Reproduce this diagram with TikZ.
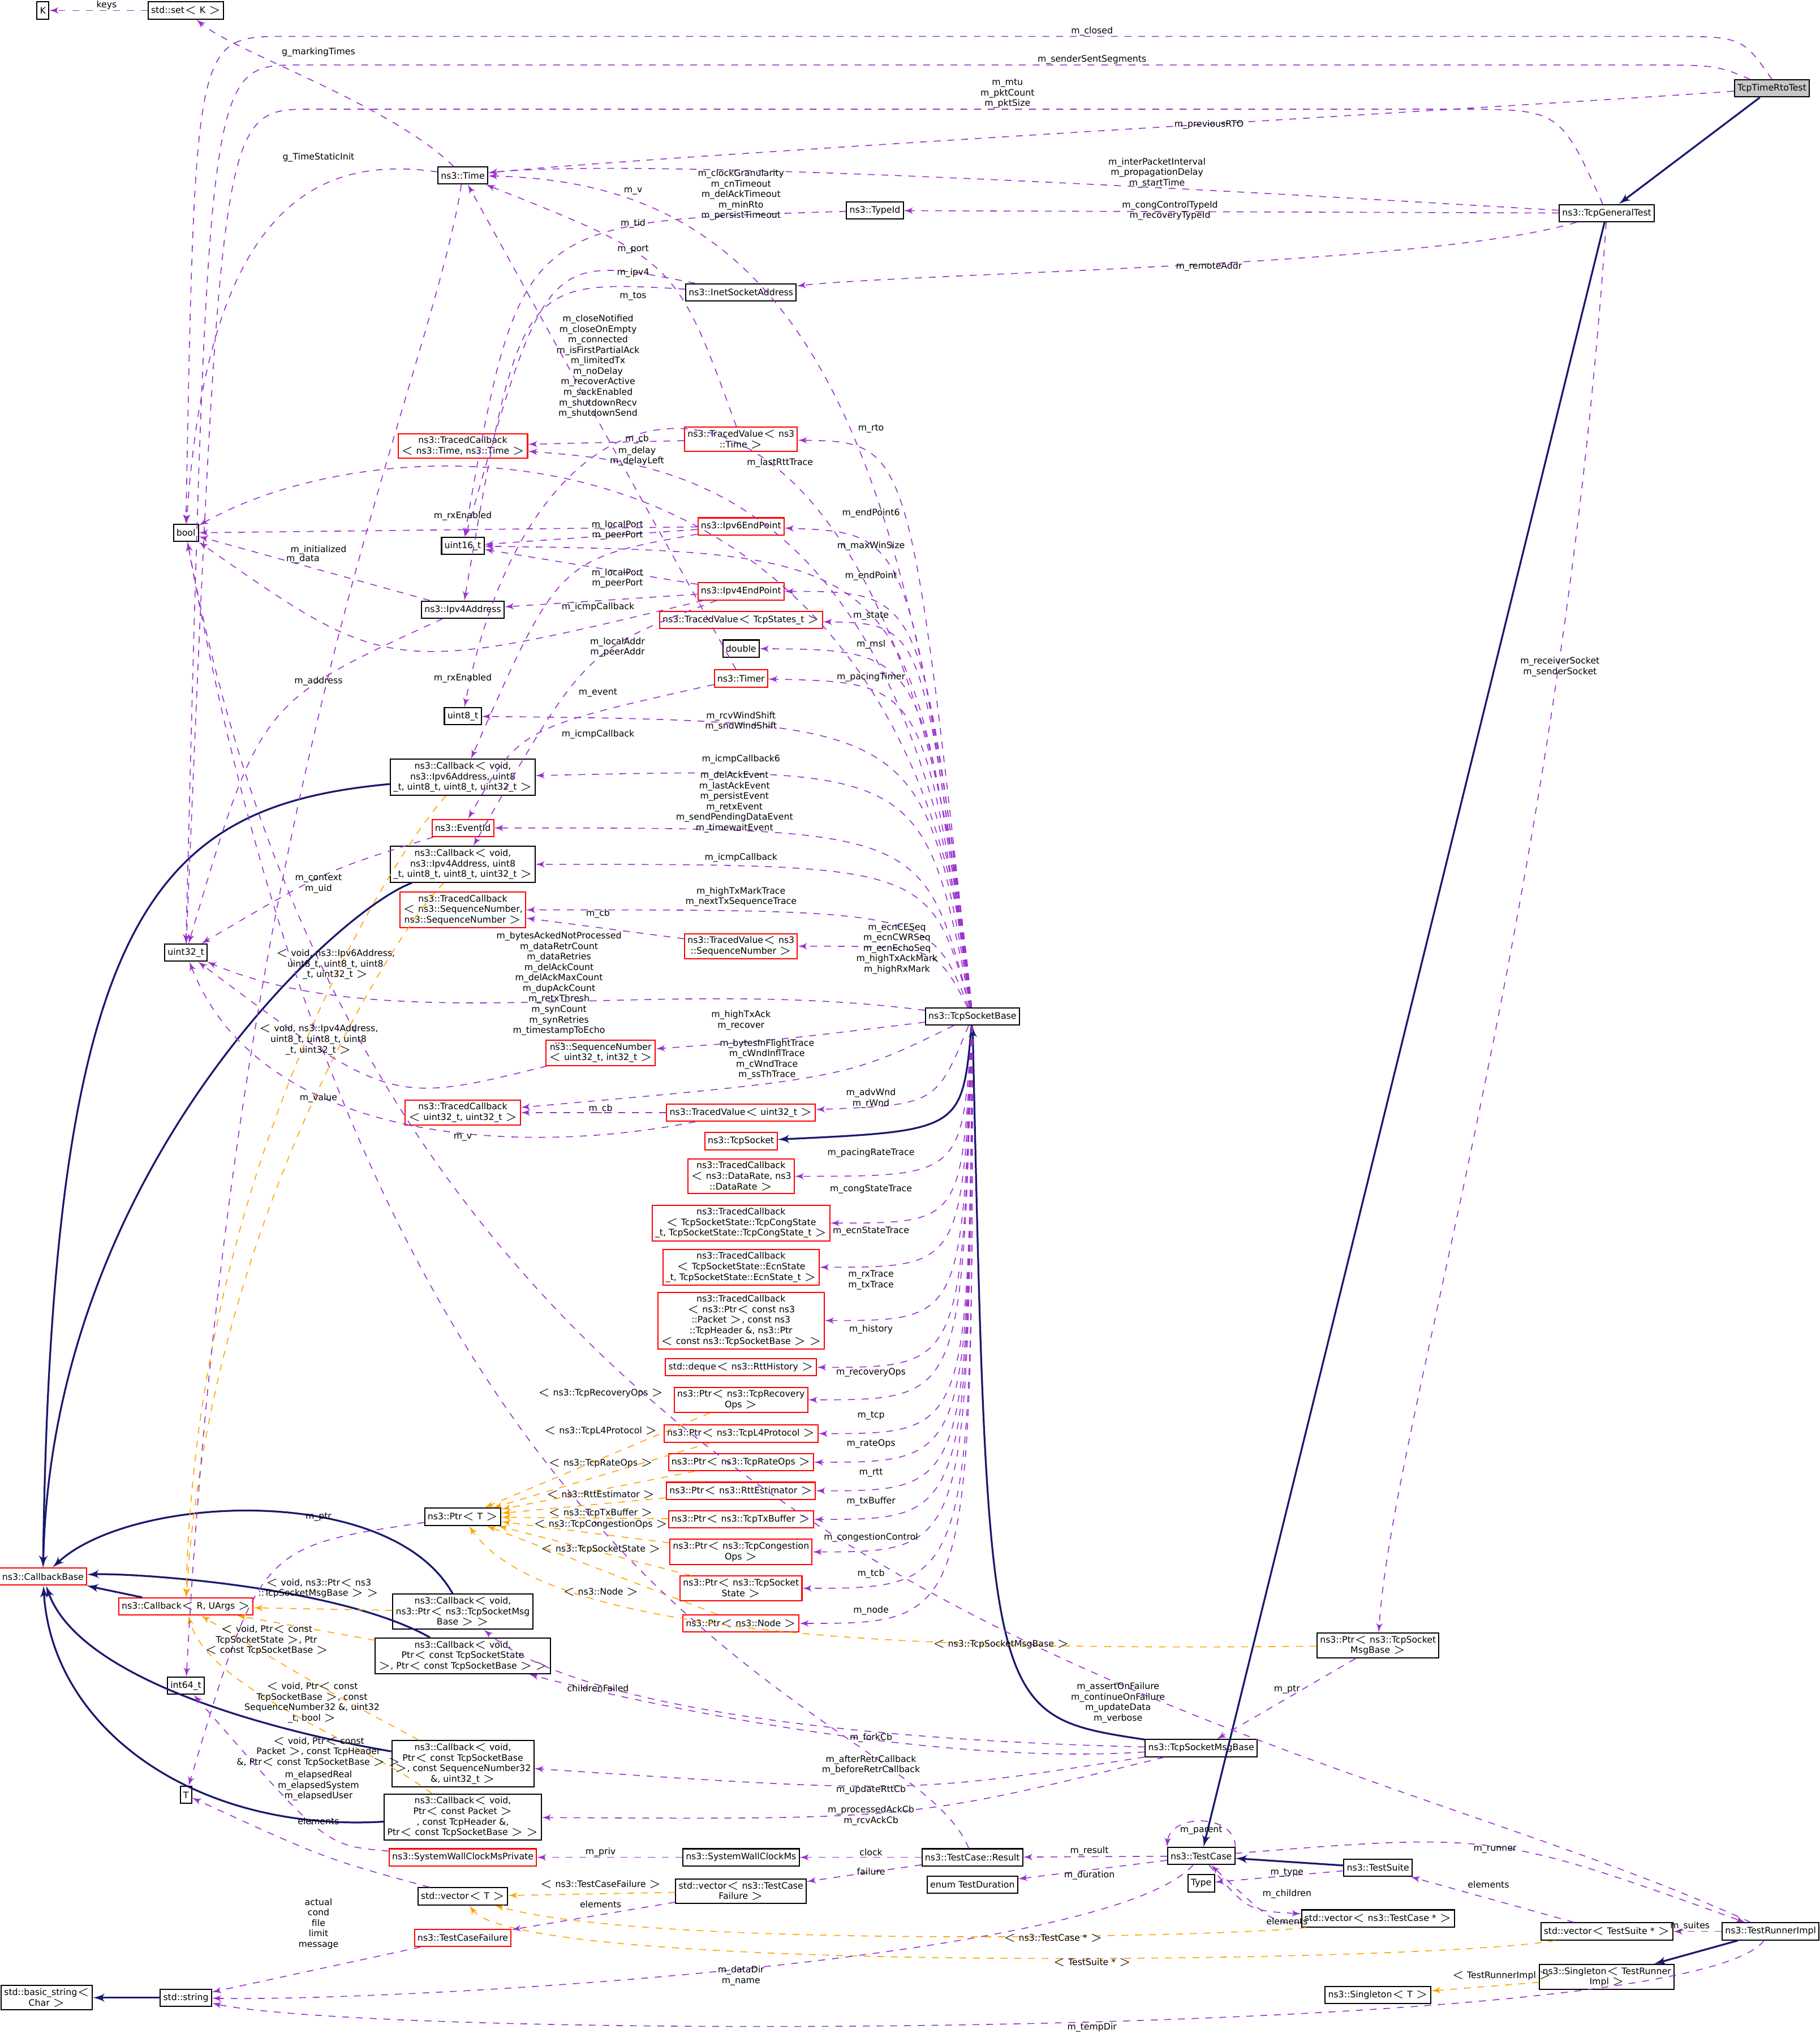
\documentclass[tikz,border=0pt]{standalone}
\usepackage{fontspec}
\setmainfont{DejaVu Sans}
\usepackage{tikz}
\usetikzlibrary{shapes, arrows}
\usepackage{xcolor}
\definecolor{usecol}{HTML}{9A32CD}
\definecolor{inhcol}{HTML}{191970}
\definecolor{tplcol}{HTML}{FFA500}
\begin{document}
\begin{tikzpicture}[x=0.02cm, y=-0.02cm, font=\fontsize{3.9}{4.6}\selectfont]
		\tikzstyle{cls} = [rectangle, draw, fill=white, align=center, inner sep=1.3pt, minimum height=7.5pt, line width=0.5pt]
		\tikzstyle{rcls} = [cls, draw=red]
		\tikzstyle{use} = [draw=usecol, dashed, -latex']
		\tikzstyle{inh} = [draw=inhcol, thick, -latex']
		\tikzstyle{tpl} = [draw=tplcol, dashed, -latex']
		\tikzstyle{lbl} = [align=center, inner sep=0pt]
		\useasboundingbox (0,0) rectangle (1400,1568);
		% classes
		\node [cls] at (33,8) (k) {K};
		\node [cls] at (143,8) (setk) {std::set$<$ K $>$};
		\node [cls, fill=gray!45] at (1363,68) (rto) {TcpTimeRtoTest};
		\node [cls] at (1236,164) (gen) {ns3::TcpGeneralTest};
		\node [cls] at (356,135) (time) {ns3::Time};
		\node [cls] at (673,162) (typeid) {ns3::TypeId};
		\node [cls] at (570,225) (inet) {ns3::InetSocketAddress};
		\node [cls] at (143,410) (bool) {bool};
		\node [rcls] at (356,343) (tcbtime) {ns3::TracedCallback\\$<$ ns3::Time, ns3::Time $>$};
		\node [rcls] at (570,338) (tvtime) {ns3::TracedValue$<$ ns3\\::Time $>$};
		\node [rcls] at (570,405) (ep6) {ns3::Ipv6EndPoint};
		\node [cls] at (356,420) (u16) {uint16\_t};
		\node [rcls] at (570,455) (ep4) {ns3::Ipv4EndPoint};
		\node [cls] at (356,469) (ipv4) {ns3::Ipv4Address};
		\node [rcls] at (570,477) (tvstate) {ns3::TracedValue$<$ TcpStates\_t $>$};
		\node [cls] at (570,499) (dbl) {double};
		\node [rcls] at (570,522) (timer) {ns3::Timer};
		\node [cls] at (356,551) (u8) {uint8\_t};
		\node [cls] at (356,598) (cb6) {ns3::Callback$<$ void,\\ns3::Ipv6Address, uint8\\\_t, uint8\_t, uint8\_t, uint32\_t $>$};
		\node [rcls] at (356,637) (evid) {ns3::EventId};
		\node [cls] at (356,665) (cb4) {ns3::Callback$<$ void,\\ns3::Ipv4Address, uint8\\\_t, uint8\_t, uint8\_t, uint32\_t $>$};
		\node [rcls] at (356,700) (tcbseq) {ns3::TracedCallback\\$<$ ns3::SequenceNumber,\\ns3::SequenceNumber $>$};
		\node [rcls] at (570,728) (tvseq) {ns3::TracedValue$<$ ns3\\::SequenceNumber $>$};
		\node [cls] at (143,733) (u32) {uint32\_t};
		\node [cls] at (748,782) (sock) {ns3::TcpSocketBase};
		\node [rcls] at (462,810) (seqnum) {ns3::SequenceNumber\\$<$ uint32\_t, int32\_t $>$};
		\node [rcls] at (356,856) (tcbu32) {ns3::TracedCallback\\$<$ uint32\_t, uint32\_t $>$};
		\node [rcls] at (570,856) (tvu32) {ns3::TracedValue$<$ uint32\_t $>$};
		\node [rcls] at (570,878) (tcpsock) {ns3::TcpSocket};
		\node [rcls] at (570,905) (tcbrate) {ns3::TracedCallback\\$<$ ns3::DataRate, ns3\\::DataRate $>$};
		\node [rcls] at (570,941) (tcbcong) {ns3::TracedCallback\\$<$ TcpSocketState::TcpCongState\\\_t, TcpSocketState::TcpCongState\_t $>$};
		\node [rcls] at (570,975) (tcbecn) {ns3::TracedCallback\\$<$ TcpSocketState::EcnState\\\_t, TcpSocketState::EcnState\_t $>$};
		\node [rcls] at (570,1016) (tcbpkt) {ns3::TracedCallback\\$<$ ns3::Ptr$<$ const ns3\\::Packet $>$, const ns3\\::TcpHeader \&, ns3::Ptr\\$<$ const ns3::TcpSocketBase $>$ $>$};
		\node [rcls] at (570,1052) (deque) {std::deque$<$ ns3::RttHistory $>$};
		\node [rcls] at (570,1077) (precov) {ns3::Ptr$<$ ns3::TcpRecovery\\Ops $>$};
		\node [rcls] at (570,1103) (pl4) {ns3::Ptr$<$ ns3::TcpL4Protocol $>$};
		\node [rcls] at (570,1125) (prate) {ns3::Ptr$<$ ns3::TcpRateOps $>$};
		\node [rcls] at (570,1147) (prtt) {ns3::Ptr$<$ ns3::RttEstimator $>$};
		\node [rcls] at (570,1169) (ptx) {ns3::Ptr$<$ ns3::TcpTxBuffer $>$};
		\node [rcls] at (570,1194) (pcong) {ns3::Ptr$<$ ns3::TcpCongestion\\Ops $>$};
		\node [rcls] at (570,1222) (pstate) {ns3::Ptr$<$ ns3::TcpSocket\\State $>$};
		\node [rcls] at (570,1249) (pnode) {ns3::Ptr$<$ ns3::Node $>$};
		\node [cls] at (356,1167) (ptrt) {ns3::Ptr$<$ T $>$};
		\node [rcls] at (33,1213) (cbbase) {ns3::CallbackBase};
		\node [rcls] at (143,1236) (cbr) {ns3::Callback$<$ R, UArgs $>$};
		\node [cls] at (356,1240) (cbmsg) {ns3::Callback$<$ void,\\ns3::Ptr$<$ ns3::TcpSocketMsg\\Base $>$ $>$};
		\node [cls] at (356,1274) (cbstate) {ns3::Callback$<$ void,\\Ptr$<$ const TcpSocketState\\$>$, Ptr$<$ const TcpSocketBase $>$ $>$};
		\node [cls] at (143,1297) (i64) {int64\_t};
		\node [cls] at (356,1357) (cbrtt) {ns3::Callback$<$ void,\\Ptr$<$ const TcpSocketBase\\$>$, const SequenceNumber32\\\&, uint32\_t $>$};
		\node [cls] at (143,1381) (tt) {T};
		\node [cls] at (356,1398) (cback) {ns3::Callback$<$ void,\\Ptr$<$ const Packet $>$\\, const TcpHeader \&,\\Ptr$<$ const TcpSocketBase $>$ $>$};
		\node [rcls] at (356,1429) (swpriv) {ns3::SystemWallClockMsPrivate};
		\node [cls] at (570,1429) (sw) {ns3::SystemWallClockMs};
		\node [cls] at (356,1459) (vect) {std::vector$<$ T $>$};
		\node [cls] at (570,1455) (vfail) {std::vector$<$ ns3::TestCase\\Failure $>$};
		\node [rcls] at (356,1491) (fail) {ns3::TestCaseFailure};
		\node [cls] at (36,1537) (bstr) {std::basic\_string$<$\\Char $>$};
		\node [cls] at (143,1537) (str) {std::string};
		\node [cls] at (748,1429) (result) {ns3::TestCase::Result};
		\node [cls] at (748,1450) (dur) {enum TestDuration};
		\node [cls] at (924,1428) (tcase) {ns3::TestCase};
		\node [cls] at (924,1449) (type) {Type};
		\node [cls] at (1060,1437) (suite) {ns3::TestSuite};
		\node [cls] at (1060,1476) (vcase) {std::vector$<$ ns3::TestCase * $>$};
		\node [cls] at (1060,1266) (pmsg) {ns3::Ptr$<$ ns3::TcpSocket\\MsgBase $>$};
		\node [cls] at (924,1345) (msg) {ns3::TcpSocketMsgBase};
		\node [cls] at (1236,1486) (vsuite) {std::vector$<$ TestSuite * $>$};
		\node [cls] at (1362,1486) (runner) {ns3::TestRunnerImpl};
		\node [cls] at (1236,1521) (single) {ns3::Singleton$<$ TestRunner\\Impl $>$};
		\node [cls] at (1060,1535) (singt) {ns3::Singleton$<$ T $>$};
		% inheritance
		\path [inh] (rto) -- (gen);
		\path [inh] (gen) -- (tcase);
		\path [inh] (msg) .. controls (760,1320) .. (sock);
		\path [inh] (sock) .. controls (740,870) .. (tcpsock);
		\path [inh] (suite) -- (tcase);
		\path [inh] (runner) -- (single);
		\path [inh] (str) -- (bstr);
		\path [inh] (cb6) .. controls (120,620) and (40,700) .. (cbbase);
		\path [inh] (cb4) .. controls (260,700) and (40,900) .. (cbbase);
		\path [inh] (cbr) -- (cbbase);
		\path [inh] (cbmsg) .. controls (300,1140) and (100,1150) .. (cbbase);
		\path [inh] (cbstate) .. controls (260,1220) and (100,1210) .. (cbbase);
		\path [inh] (cbrtt) .. controls (200,1330) and (60,1290) .. (cbbase);
		\path [inh] (cback) .. controls (150,1410) and (40,1330) .. (cbbase);
		% templates
		\path [tpl] (cb6) .. controls (300,660) and (150,900) .. (cbr);
		\path [tpl] (cb4) .. controls (300,720) and (160,950) .. (cbr);
		\path [tpl] (cbmsg) -- (cbr);
		\path [tpl] (cbstate) -- (cbr);
		\path [tpl] (cbrtt) .. controls (250,1300) .. (cbr);
		\path [tpl] (cback) .. controls (280,1340) and (160,1300) .. (cbr);
		\foreach \p in {precov, pl4, prate, prtt, ptx, pcong, pstate, pnode}
			\path [tpl] (\p) -- (ptrt);
		\path [tpl] (pmsg) .. controls (700,1270) and (420,1260) .. (ptrt);
		\path [tpl] (vfail) -- (vect);
		\path [tpl] (vcase) .. controls (950,1490) and (500,1500) .. (vect);
		\path [tpl] (vsuite) .. controls (1100,1510) and (400,1520) .. (vect);
		\path [tpl] (single) -- (singt);
		% members
		\path [use] (setk) -- (k);
		\path [use] (time) .. controls (300,80) and (180,40) .. (setk);
		\path [use] (time) .. controls (250,120) and (160,150) .. (bool);
		\path [use] (time) .. controls (330,300) and (180,600) .. (i64);
		\path [use] (rto.north) .. controls (1340,28) .. (1280,28) -- (220,28) .. controls (150,28) .. (bool.north);
		\path [use] (rto) .. controls (1320,50) .. (1260,50) -- (230,50) .. controls (160,50) .. (u32.north);
		\path [use] (rto) .. controls (1200,80) and (500,120) .. (time);
		\path [use] (gen) .. controls (1200,84) .. (1120,84) -- (240,84) .. controls (170,84) .. (u32);
		\path [use] (gen) .. controls (1000,150) and (500,120) .. (time);
		\path [use] (gen) -- (typeid);
		\path [use] (gen) .. controls (1100,205) and (700,210) .. (inet);
		\path [use] (gen) .. controls (1200,700) and (1070,1100) .. (pmsg);
		\path [use] (sock) .. controls (700,300) and (600,140) .. (time);
		\path [use] (tvtime) .. controls (520,200) .. (time);
		\path [use] (typeid) .. controls (400,170) .. (u16);
		\path [use] (inet) .. controls (420,195) .. (u16);
		\path [use] (inet) .. controls (400,215) .. (ipv4);
		\path [use] (sock) .. controls (700,240) and (420,220) .. (u8);
		\path [use] (sock) .. controls (700,310) and (300,320) .. (bool);
		\path [use] (tvtime) -- (tcbtime);
		\path [use] (sock) .. controls (700,340) .. (tvtime);
		\path [use] (sock) .. controls (700,360) and (500,355) .. (tcbtime);
		\path [use] (timer) .. controls (480,360) .. (time);
		\path [use] (ep6) -- (bool);
		\path [use] (ep6) -- (u16);
		\path [use] (sock) .. controls (700,410) .. (ep6);
		\path [use] (sock) .. controls (700,425) .. (u16);
		\path [use] (ipv4) -- (bool);
		\path [use] (ep4) -- (u16);
		\path [use] (ep4) -- (ipv4);
		\path [use] (ep4) .. controls (300,520) .. (bool);
		\path [use] (ep4) .. controls (450,500) .. (cb4);
		\path [use] (ep6) .. controls (430,430) .. (cb6);
		\path [use] (sock) .. controls (710,455) .. (ep4);
		\path [use] (sock) .. controls (710,480) .. (tvstate);
		\path [use] (sock) .. controls (710,500) .. (dbl);
		\path [use] (sock) .. controls (710,525) .. (timer);
		\path [use] (timer) .. controls (400,560) .. (evid);
		\path [use] (sock) .. controls (710,555) .. (u8);
		\path [use] (sock) .. controls (710,590) .. (cb6);
		\path [use] (sock) .. controls (710,637) .. (evid);
		\path [use] (sock) .. controls (715,665) .. (cb4);
		\path [use] (sock) .. controls (715,700) .. (tcbseq);
		\path [use] (tvseq) -- (tcbseq);
		\path [use] (sock) .. controls (720,728) .. (tvseq);
		\path [use] (ipv4) .. controls (200,540) .. (u32);
		\path [use] (evid) .. controls (250,670) .. (u32);
		\path [use] (sock) .. controls (500,750) and (300,800) .. (u32);
		\path [use] (sock) .. controls (600,800) .. (seqnum);
		\path [use] (seqnum) .. controls (300,850) .. (u32);
		\path [use] (sock) .. controls (650,830) .. (tcbu32);
		\path [use] (tvu32) -- (tcbu32);
		\path [use] (sock) .. controls (720,850) .. (tvu32);
		\path [use] (tvu32) .. controls (400,890) and (200,880) .. (u32);
		\path [use] (sock) .. controls (740,905) .. (tcbrate);
		\path [use] (sock) .. controls (740,941) .. (tcbcong);
		\path [use] (sock) .. controls (740,975) .. (tcbecn);
		\path [use] (sock) .. controls (740,1016) .. (tcbpkt);
		\path [use] (sock) .. controls (740,1052) .. (deque);
		\path [use] (sock) .. controls (740,1077) .. (precov);
		\path [use] (sock) .. controls (745,1103) .. (pl4);
		\path [use] (sock) .. controls (745,1125) .. (prate);
		\path [use] (sock) .. controls (745,1147) .. (prtt);
		\path [use] (sock) .. controls (745,1169) .. (ptx);
		\path [use] (sock) .. controls (745,1194) .. (pcong);
		\path [use] (sock) .. controls (748,1222) .. (pstate);
		\path [use] (sock) .. controls (748,1249) .. (pnode);
		\path [use] (ptrt) .. controls (200,1190) .. (tt);
		\path [use] (pmsg) -- (msg);
		\path [use] (msg) .. controls (700,1340) and (450,1320) .. (cbmsg);
		\path [use] (msg) .. controls (700,1360) and (450,1300) .. (cbstate);
		\path [use] (msg) .. controls (700,1380) .. (cbrtt);
		\path [use] (msg) .. controls (700,1400) .. (cback);
		\path [use] (runner) .. controls (1000,1320) and (300,1250) .. (bool);
		\path [use] (result) .. controls (700,1310) and (300,1280) .. (bool);
		\path [use] (result) -- (sw);
		\path [use] (result) -- (vfail);
		\path [use] (sw) -- (swpriv);
		\path [use] (swpriv) .. controls (250,1420) .. (i64);
		\path [use] (vect) .. controls (250,1430) .. (tt);
		\path [use] (vfail) -- (fail);
		\path [use] (fail) -- (str);
		\path [use] (tcase) -- (result);
		\path [use] (tcase) -- (dur);
		\path [use] (tcase.north east) .. controls (950,1395) and (900,1395) .. (tcase.north west);
		\path [use] (tcase) .. controls (850,1510) and (300,1540) .. (str);
		\path [use] (suite) -- (type);
		\path [use] (tcase) .. controls (960,1470) .. (vcase);
		\path [use] (vcase) .. controls (980,1480) .. (tcase);
		\path [use] (vsuite) -- (suite);
		\path [use] (runner) -- (vsuite);
		\path [use] (tcase) .. controls (1150,1410) .. (runner);
		\path [use] (runner) .. controls (1300,1570) and (300,1570) .. (str);
		% labels
		\node [lbl] at (82,4) (l1) {keys};
		\node [lbl] at (245,40) (l2) {g\_markingTimes};
		\node [lbl] at (840,24) (l3) {m\_closed};
		\node [lbl] at (840,46) (l4) {m\_senderSentSegments};
		\node [lbl] at (775,72) (l5) {m\_mtu\\m\_pktCount\\m\_pktSize};
		\node [lbl] at (930,96) (l6) {m\_previousRTO};
		\node [lbl] at (245,121) (l7) {g\_TimeStaticInit};
		\node [lbl] at (570,150) (l8) {m\_clockGranularity\\m\_cnTimeout\\m\_delAckTimeout\\m\_minRto\\m\_persistTimeout};
		\node [lbl] at (890,133) (l9) {m\_interPacketInterval\\m\_propagationDelay\\m\_startTime};
		\node [lbl] at (487,147) (l10) {m\_v};
		\node [lbl] at (900,162) (l11) {m\_congControlTypeId\\m\_recoveryTypeId};
		\node [lbl] at (487,172) (l12) {m\_tid};
		\node [lbl] at (487,192) (l13) {m\_port};
		\node [lbl] at (487,210) (l14) {m\_ipv4};
		\node [lbl] at (930,205) (l15) {m\_remoteAddr};
		\node [lbl] at (487,228) (l16) {m\_tos};
		\node [lbl] at (460,282) (l17) {m\_closeNotified\\m\_closeOnEmpty\\m\_connected\\m\_isFirstPartialAck\\m\_limitedTx\\m\_noDelay\\m\_recoverActive\\m\_sackEnabled\\m\_shutdownRecv\\m\_shutdownSend};
		\node [lbl] at (490,338) (l18) {m\_cb};
		\node [lbl] at (490,351) (l19) {m\_delay\\m\_delayLeft};
		\node [lbl] at (670,330) (l20) {m\_rto};
		\node [lbl] at (600,356) (l21) {m\_lastRttTrace};
		\node [lbl] at (356,397) (l22) {m\_rxEnabled};
		\node [lbl] at (475,408) (l23) {m\_localPort\\m\_peerPort};
		\node [lbl] at (670,395) (l24) {m\_endPoint6};
		\node [lbl] at (245,423) (l25) {m\_initialized};
		\node [lbl] at (670,420) (l26) {m\_maxWinSize};
		\node [lbl] at (233,430) (l27) {m\_data};
		\node [lbl] at (475,445) (l28) {m\_localPort\\m\_peerPort};
		\node [lbl] at (460,467) (l29) {m\_icmpCallback};
		\node [lbl] at (670,443) (l30) {m\_endPoint};
		\node [lbl] at (670,474) (l31) {m\_state};
		\node [lbl] at (475,498) (l32) {m\_localAddr\\m\_peerAddr};
		\node [lbl] at (670,496) (l33) {m\_msl};
		\node [lbl] at (356,522) (l34) {m\_rxEnabled};
		\node [lbl] at (245,524) (l35) {m\_address};
		\node [lbl] at (670,521) (l36) {m\_pacingTimer};
		\node [lbl] at (460,533) (l37) {m\_event};
		\node [lbl] at (570,555) (l38) {m\_rcvWindShift\\m\_sndWindShift};
		\node [lbl] at (460,565) (l39) {m\_icmpCallback};
		\node [lbl] at (570,584) (l40) {m\_icmpCallback6};
		\node [lbl] at (565,617) (l41) {m\_delAckEvent\\m\_lastAckEvent\\m\_persistEvent\\m\_retxEvent\\m\_sendPendingDataEvent\\m\_timewaitEvent};
		\node [lbl] at (570,660) (l42) {m\_icmpCallback};
		\node [lbl] at (570,690) (l43) {m\_highTxMarkTrace\\m\_nextTxSequenceTrace};
		\node [lbl] at (460,703) (l44) {m\_cb};
		\node [lbl] at (245,680) (l45) {m\_context\\m\_uid};
		\node [lbl] at (690,730) (l46) {m\_ecnCESeq\\m\_ecnCWRSeq\\m\_ecnEchoSeq\\m\_highTxAckMark\\m\_highRxMark};
		\node [lbl] at (430,760) (l47) {m\_bytesAckedNotProcessed\\m\_dataRetrCount\\m\_dataRetries\\m\_delAckCount\\m\_delAckMaxCount\\m\_dupAckCount\\m\_retxThresh\\m\_synCount\\m\_synRetries\\m\_timestampToEcho\\...};
		\node [lbl] at (258,742) (l48) {$<$ void, ns3::Ipv6Address,\\uint8\_t, uint8\_t, uint8\\\_t, uint32\_t $>$};
		\node [lbl] at (570,785) (l49) {m\_highTxAck\\m\_recover};
		\node [lbl] at (245,800) (l50) {$<$ void, ns3::Ipv4Address,\\uint8\_t, uint8\_t, uint8\\\_t, uint32\_t $>$};
		\node [lbl] at (590,815) (l51) {m\_bytesInFlightTrace\\m\_cWndInflTrace\\m\_cWndTrace\\m\_ssThTrace};
		\node [lbl] at (245,845) (l52) {m\_value};
		\node [lbl] at (670,845) (l53) {m\_advWnd\\m\_rWnd};
		\node [lbl] at (462,853) (l54) {m\_cb};
		\node [lbl] at (356,875) (l55) {m\_v};
		\node [lbl] at (670,887) (l56) {m\_pacingRateTrace};
		\node [lbl] at (670,915) (l57) {m\_congStateTrace};
		\node [lbl] at (670,947) (l58) {m\_ecnStateTrace};
		\node [lbl] at (670,985) (l59) {m\_rxTrace\\m\_txTrace};
		\node [lbl] at (670,1023) (l60) {m\_history};
		\node [lbl] at (670,1056) (l61) {m\_recoveryOps};
		\node [lbl] at (462,1072) (l62) {$<$ ns3::TcpRecoveryOps $>$};
		\node [lbl] at (670,1089) (l63) {m\_tcp};
		\node [lbl] at (462,1101) (l64) {$<$ ns3::TcpL4Protocol $>$};
		\node [lbl] at (670,1111) (l65) {m\_rateOps};
		\node [lbl] at (462,1126) (l66) {$<$ ns3::TcpRateOps $>$};
		\node [lbl] at (670,1133) (l67) {m\_rtt};
		\node [lbl] at (462,1150) (l68) {$<$ ns3::RttEstimator $>$};
		\node [lbl] at (670,1155) (l69) {m\_txBuffer};
		\node [lbl] at (462,1164) (l70) {$<$ ns3::TcpTxBuffer $>$};
		\node [lbl] at (462,1173) (l71) {$<$ ns3::TcpCongestionOps $>$};
		\node [lbl] at (670,1183) (l72) {m\_congestionControl};
		\node [lbl] at (462,1192) (l73) {$<$ ns3::TcpSocketState $>$};
		\node [lbl] at (670,1211) (l74) {m\_tcb};
		\node [lbl] at (462,1225) (l75) {$<$ ns3::Node $>$};
		\node [lbl] at (245,1167) (l76) {m\_ptr};
		\node [lbl] at (670,1239) (l77) {m\_node};
		\node [lbl] at (770,1265) (l78) {$<$ ns3::TcpSocketMsgBase $>$};
		\node [lbl] at (245,1222) (l79) {$<$ void, ns3::Ptr$<$ ns3\\::TcpSocketMsgBase $>$ $>$};
		\node [lbl] at (205,1262) (l80) {$<$ void, Ptr$<$ const\\TcpSocketState $>$, Ptr\\$<$ const TcpSocketBase $>$};
		\node [lbl] at (1200,513) (l81) {m\_receiverSocket\\m\_senderSocket};
		\node [lbl] at (990,1300) (l82) {m\_ptr};
		\node [lbl] at (240,1310) (l83) {$<$ void, Ptr$<$ const\\TcpSocketBase $>$, const\\SequenceNumber32 \&, uint32\\\_t, bool $>$};
		\node [lbl] at (860,1310) (l84) {m\_assertOnFailure\\m\_continueOnFailure\\m\_updateData\\m\_verbose};
		\node [lbl] at (460,1299) (l85) {childrenFailed};
		\node [lbl] at (245,1348) (l86) {$<$ void, Ptr$<$ const\\Packet $>$, const TcpHeader\\\&, Ptr$<$ const TcpSocketBase $>$ $>$};
		\node [lbl] at (670,1337) (l87) {m\_forkCb};
		\node [lbl] at (670,1358) (l88) {m\_afterRetrCallback\\m\_beforeRetrCallback};
		\node [lbl] at (670,1377) (l89) {m\_updateRttCb};
		\node [lbl] at (245,1374) (l90) {m\_elapsedReal\\m\_elapsedSystem\\m\_elapsedUser};
		\node [lbl] at (670,1397) (l91) {m\_processedAckCb\\m\_rcvAckCb};
		\node [lbl] at (245,1401) (l92) {elements};
		\node [lbl] at (462,1425) (l93) {m\_priv};
		\node [lbl] at (670,1425) (l94) {clock};
		\node [lbl] at (670,1440) (l95) {failure};
		\node [lbl] at (838,1424) (l96) {m\_result};
		\node [lbl] at (924,1408) (l97) {m\_parent};
		\node [lbl] at (838,1443) (l98) {m\_duration};
		\node [lbl] at (990,1441) (l99) {m\_type};
		\node [lbl] at (990,1457) (l100) {m\_children};
		\node [lbl] at (1150,1423) (l101) {m\_runner};
		\node [lbl] at (462,1450) (l102) {$<$ ns3::TestCaseFailure $>$};
		\node [lbl] at (462,1465) (l103) {elements};
		\node [lbl] at (990,1478) (l104) {elements};
		\node [lbl] at (1145,1450) (l105) {elements};
		\node [lbl] at (245,1480) (l106) {actual\\cond\\file\\limit\\message};
		\node [lbl] at (810,1491) (l107) {$<$ ns3::TestCase * $>$};
		\node [lbl] at (1300,1482) (l108) {m\_suites};
		\node [lbl] at (840,1510) (l109) {$<$ TestSuite * $>$};
		\node [lbl] at (1155,1520) (l110) {$<$ TestRunnerImpl $>$};
		\node [lbl] at (570,1520) (l111) {m\_dataDir\\m\_name};
		\node [lbl] at (840,1560) (l112) {m\_tempDir};
	\end{tikzpicture}
\end{document}
